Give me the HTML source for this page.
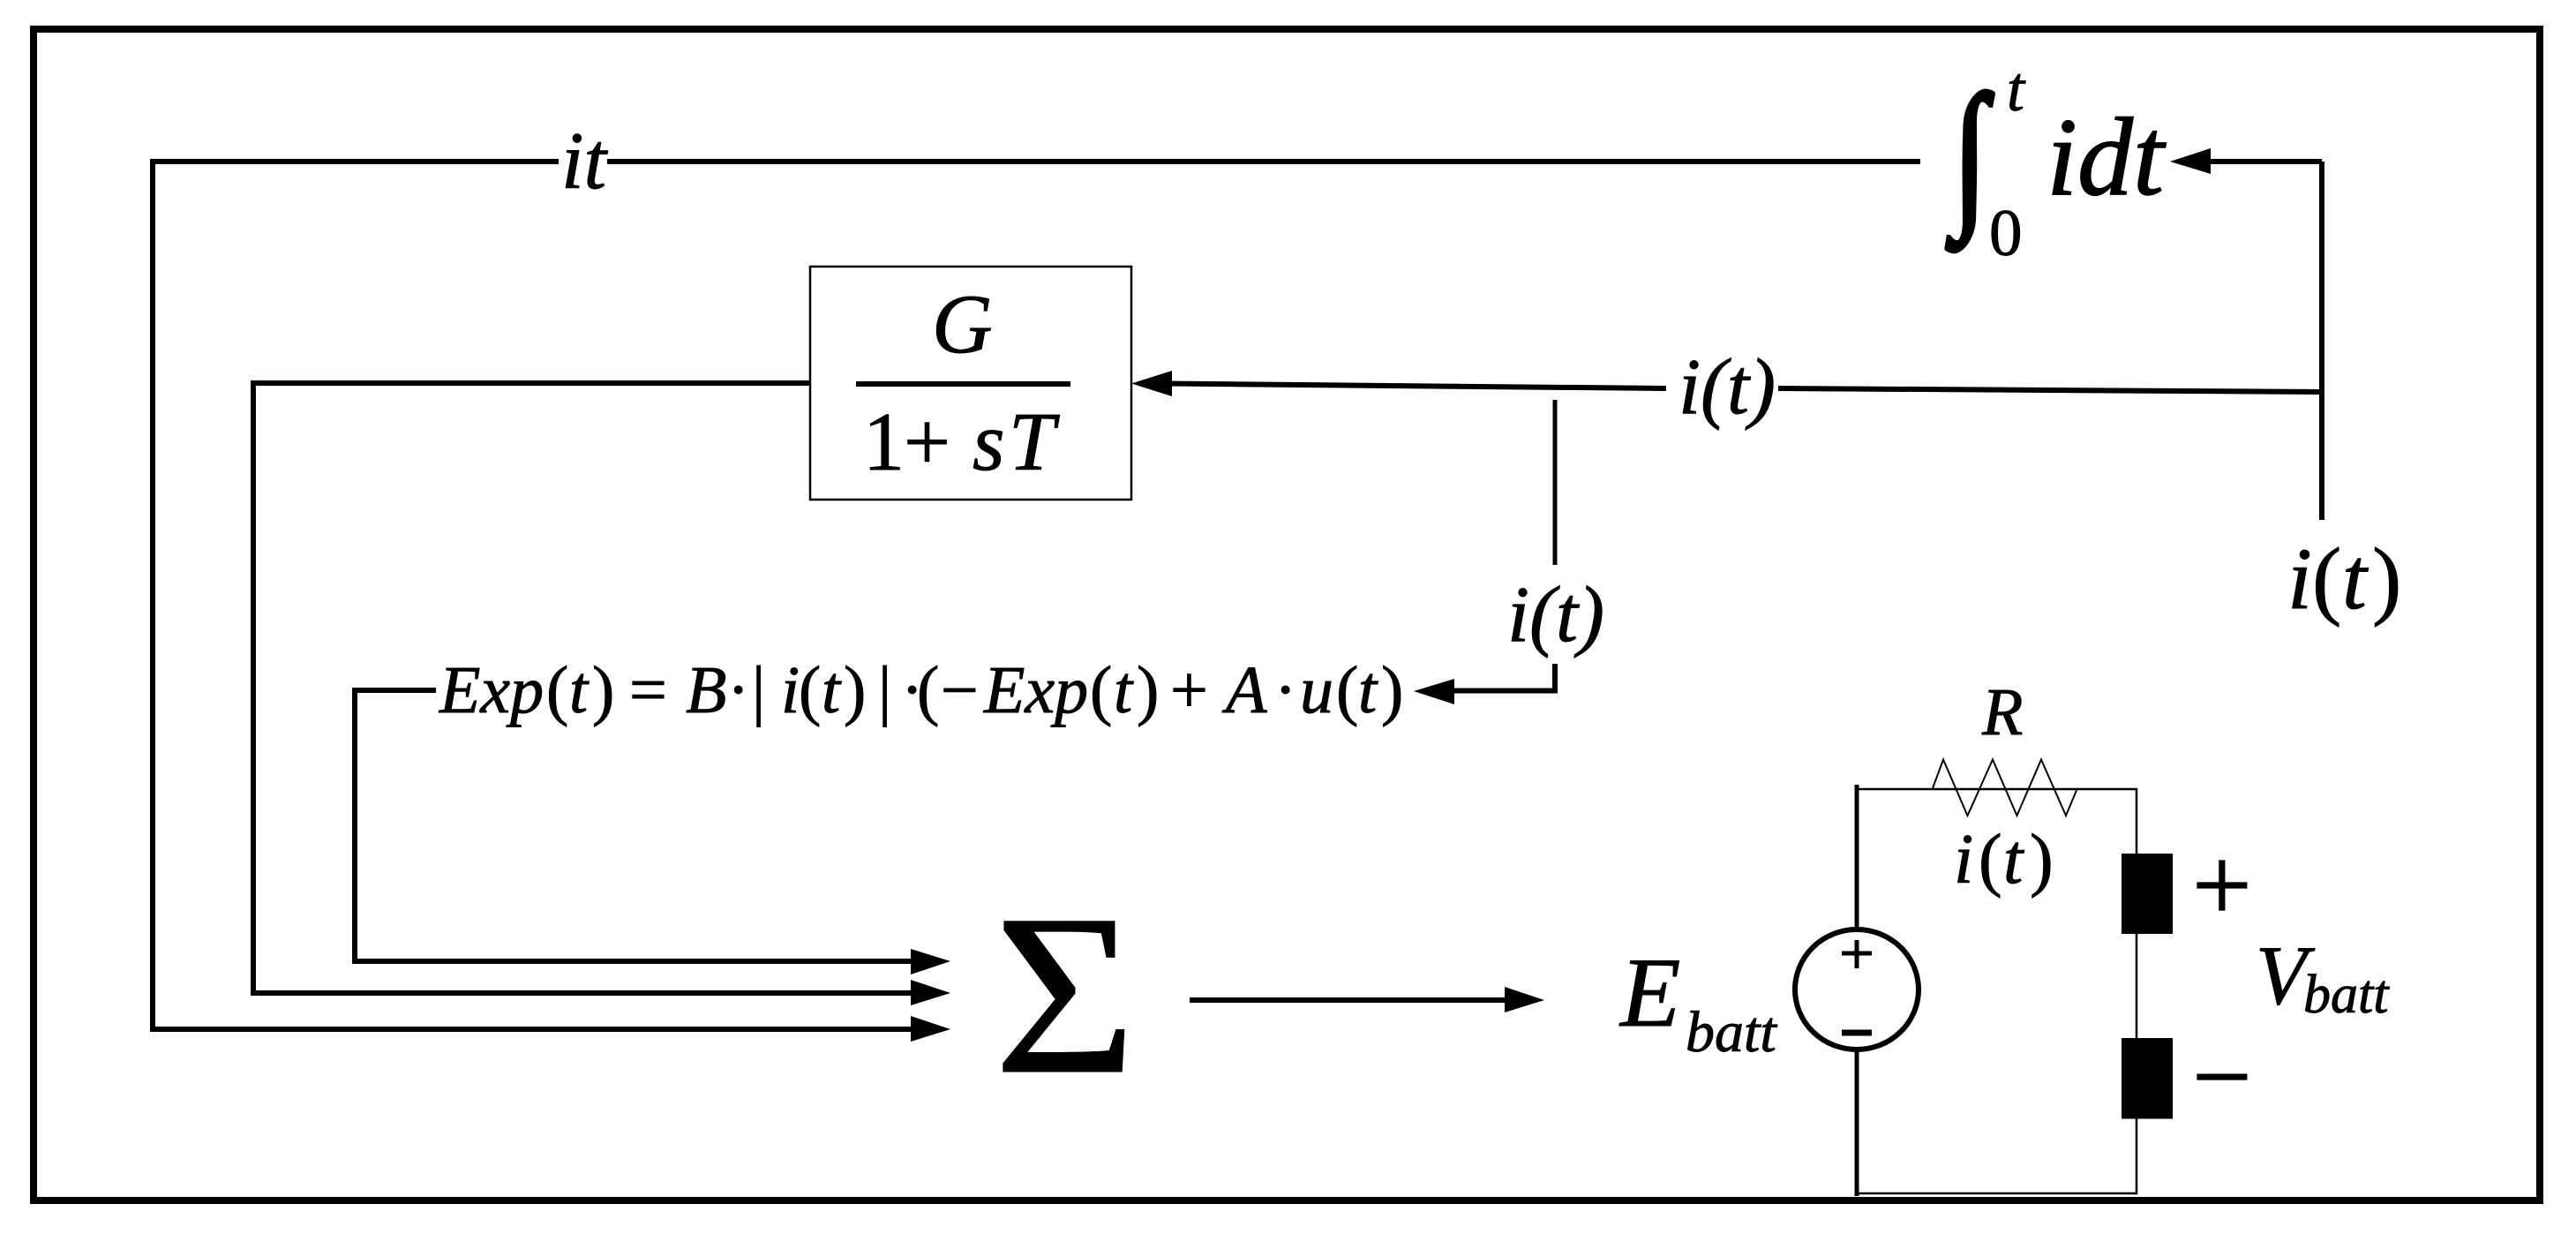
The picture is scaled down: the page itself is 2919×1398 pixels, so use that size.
<!DOCTYPE html>
<html><head><meta charset="utf-8"><style>
html,body{margin:0;padding:0;background:#fff;width:2919px;height:1398px;overflow:hidden}
svg{display:block}
text{font-family:"Liberation Serif",serif;fill:#000;stroke:#000;stroke-width:.9px}
.i{font-style:italic}
</style></head><body>
<svg width="2919" height="1398" viewBox="0 0 2919 1398" xmlns="http://www.w3.org/2000/svg">
<rect width="2919" height="1398" fill="#fff"/>
<rect x="38" y="33" width="2840" height="1327" fill="none" stroke="#000" stroke-width="8"/>
<g fill="none" stroke="#000" stroke-width="5">
<path d="M2176 183H688M633 183H173V1166H1040" stroke-width="6"/>
<path d="M918 434H287V1125H1040" stroke-width="6"/>
<path d="M494 782H402V1089H1040" stroke-width="6"/>
<path d="M1348 1133H1710" stroke-width="6"/>
<path d="M2631 183H2500M2631 183V589" stroke-width="6"/>
<path d="M2015 440L2631 444" stroke-width="6"/>
<path d="M1320 434.500L1888 440" stroke-width="6"/>
<path d="M1762 453V640" stroke-width="5"/>
<path d="M1762 752V782.500H1640" stroke-width="6"/>
<path d="M970 435H1213" stroke-width="6"/>
<path d="M2104 889V1052M2104 1190V1355" stroke-width="5"/>
<path d="M2104 894H2421V1352H2104" stroke-width="2.500"/>
<path d="M2190 893L2202 860.500L2229.500 924L2258 860.500L2285.500 924L2313 860.500L2341 924L2354 893" stroke-width="2"/>
<ellipse cx="2104" cy="1121" rx="70" ry="68" stroke-width="6"/>
<path d="M2087 1080H2121M2104 1065V1097" stroke-width="5"/>
<path d="M2087 1170H2121" stroke-width="7"/>
</g>
<rect x="918" y="302" width="364" height="264" fill="none" stroke="#000" stroke-width="2.500"/>
<g fill="#000">
<path d="M1077 1166L1032 1151V1180Z"/>
<path d="M1077 1125L1032 1110V1139Z"/>
<path d="M1077 1089L1032 1075V1104Z"/>
<path d="M1750 1133L1705 1118V1147Z"/>
<path d="M2459 183L2505 168V197Z"/>
<path d="M1282 434.500L1328 420V449Z"/>
<path d="M1602 783L1648 769V798Z"/>
<rect x="2404" y="967" width="58" height="91"/>
<rect x="2404" y="1176" width="58" height="91.500"/>
</g>

<text class="i" x="636" y="213" font-size="92">it</text>
<text x="0" y="0" font-size="190" transform="translate(2213,235) scale(.74,.97)" style="stroke-width:6px">∫</text>
<text class="i" x="2274" y="125" font-size="72">t</text>
<text x="2254" y="289" font-size="75">0</text>
<text class="i" x="2319" y="220" font-size="126" style="stroke-width:1.4px">idt</text>

<text class="i" x="1902" y="468" font-size="90">i(t)</text>
<text class="i" x="1708" y="726" font-size="90">i(t)</text>
<text font-size="100" y="689"><tspan class="i" x="2592">i</tspan><tspan x="2620">(</tspan><tspan class="i" x="2654">t</tspan><tspan x="2688">)</tspan></text>

<text font-size="95" class="i" x="1056" y="399">G</text>
<text font-size="94" y="532"><tspan x="978">1</tspan><tspan x="1024">+</tspan><tspan class="i" x="1102">s</tspan><tspan class="i" x="1143">T</tspan></text>

<text font-size="76" y="807"><tspan class="i" x="498">Exp</tspan><tspan x="619">(</tspan><tspan class="i" x="645">t</tspan><tspan x="671">)</tspan><tspan x="713">=</tspan><tspan class="i" x="777">B</tspan><tspan x="824">·</tspan><tspan x="852">|</tspan><tspan class="i" x="885">i</tspan><tspan x="905">(</tspan><tspan class="i" x="931">t</tspan><tspan x="956">)</tspan><tspan x="995">|</tspan><tspan x="1021">·</tspan><tspan x="1039">(</tspan><tspan x="1066">−</tspan><tspan class="i" x="1115">Exp</tspan><tspan x="1235">(</tspan><tspan class="i" x="1262">t</tspan><tspan x="1288">)</tspan><tspan x="1326">+</tspan><tspan class="i" x="1389">A</tspan><tspan x="1444">·</tspan><tspan class="i" x="1473">u</tspan><tspan x="1514">(</tspan><tspan class="i" x="1539">t</tspan><tspan x="1565">)</tspan></text>

<text x="0" y="0" font-size="255" transform="translate(1126,1214) scale(1.09,1.02)">Σ</text>

<text class="i" x="1836" y="1162" font-size="112">E</text>
<text class="i" x="1910" y="1191" font-size="66">batt</text>
<text class="i" x="2556" y="1137" font-size="95">V</text>
<text class="i" x="2610" y="1147" font-size="62">batt</text>
<text class="i" x="2246" y="832" font-size="76">R</text>
<text font-size="80" y="1000"><tspan class="i" x="2214">i</tspan><tspan x="2242">(</tspan><tspan class="i" x="2270">t</tspan><tspan x="2300">)</tspan></text>
<text x="2484" y="1043" font-size="120" style="stroke-width:1.2px">+</text>
<text x="2484" y="1260" font-size="120" style="stroke-width:1.2px">−</text>
</svg>
</body></html>
